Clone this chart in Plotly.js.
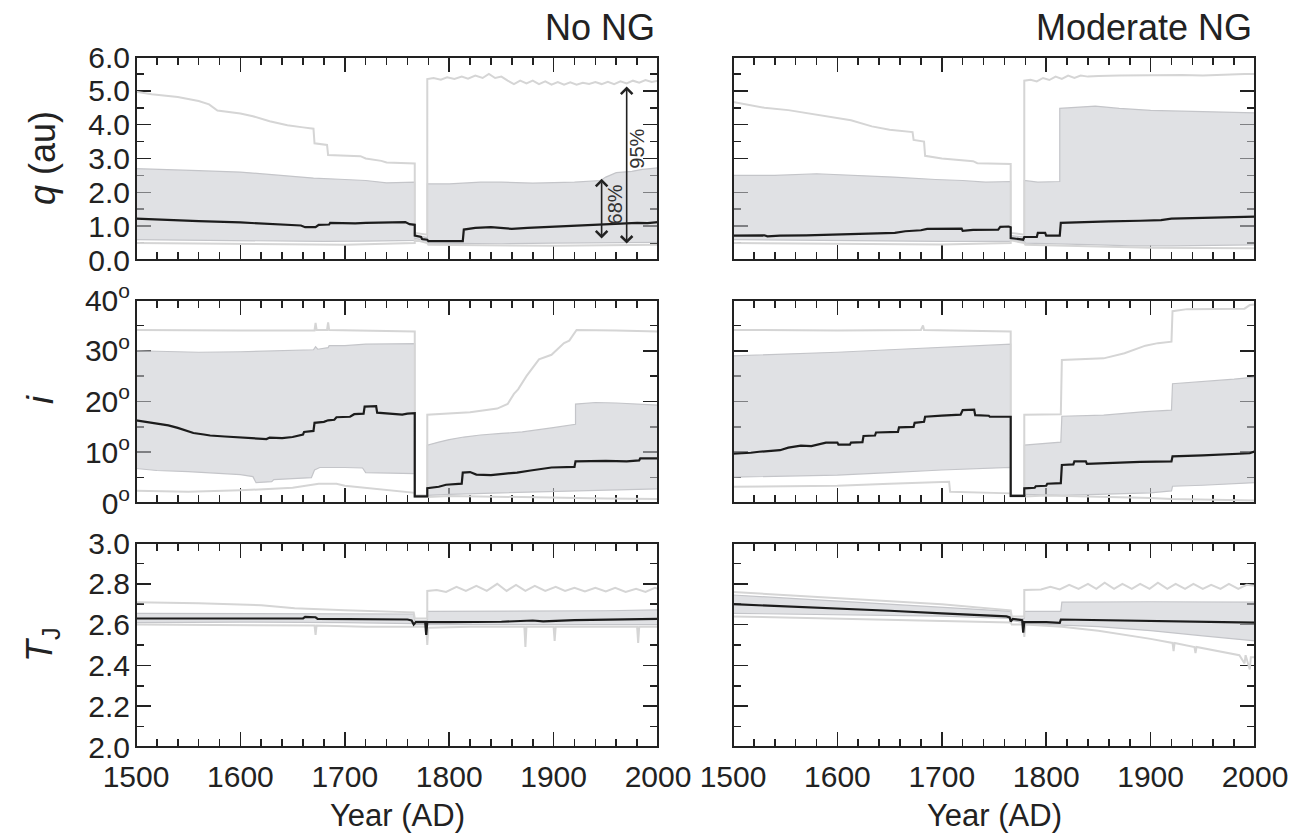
<!DOCTYPE html>
<html>
<head>
<meta charset="utf-8">
<script src="https://cdn.plot.ly/plotly-3.0.1.min.js"></script>
<style>html,body{margin:0;padding:0;background:#fff;}#chart{width:1301px;height:840px;}</style>
</head>
<body>
<div id="chart"></div>
<script>
// ---------- tick labels ----------
const yearTicks = [1500, 1600, 1700, 1800, 1900, 2000];
const yearLabels = ['1500', '1600', '1700', '1800', '1900', '2000'];
const qTicks = [0, 1, 2, 3, 4, 5, 6];
const qLabels = ['0.0', '1.0', '2.0', '3.0', '4.0', '5.0', '6.0'];
const iTicks = [0, 10, 20, 30, 40];
const iLabels = ['0<sup>o</sup>', '10<sup>o</sup>', '20<sup>o</sup>', '30<sup>o</sup>', '40<sup>o</sup>'];
const tjTicks = [2.0, 2.2, 2.4, 2.6, 2.8, 3.0];
const tjLabels = ['2.0', '2.2', '2.4', '2.6', '2.8', '3.0'];
const panelTitles = ['No NG', 'Moderate NG'];

// ---------- q (au), No NG : [year, value] ----------
const qNoMed = [[1500,1.22],[1530,1.18],[1560,1.15],[1600,1.11],[1640,1.06],[1658,1.02],[1662,0.97],[1672,0.97],[1675,1.04],[1685,1.05],[1686,1.1],[1710,1.08],[1720,1.1],[1745,1.1],[1758,1.12],[1762,1.06],[1767,1.04],[1767,0.72],[1773,0.68],[1774,0.62],[1779,0.6],[1780,0.56],[1813,0.56],[1814,0.9],[1825,0.95],[1840,0.97],[1850,0.94],[1860,0.92],[1875,0.95],[1890,0.97],[1910,0.99],[1930,1.02],[1950,1.05],[1965,1.08],[1980,1.1],[1990,1.09],[2000,1.12]];
const qNoHi68 = [[1500,2.7],[1530,2.68],[1560,2.64],[1600,2.6],[1620,2.55],[1640,2.48],[1670,2.42],[1700,2.38],[1720,2.35],[1740,2.28],[1755,2.3],[1767,2.3],[1767,0.74],[1779,0.66],[1779,2.25],[1800,2.25],[1830,2.3],[1850,2.3],[1880,2.27],[1920,2.3],[1945,2.35],[1950,2.45],[1960,2.58],[1975,2.62],[1985,2.68],[2000,2.72]];
const qNoLo68 = [[1500,0.6],[1560,0.58],[1620,0.55],[1680,0.55],[1720,0.56],[1767,0.58],[1767,0.64],[1779,0.55],[1780,0.5],[1850,0.48],[1900,0.5],[1950,0.5],[2000,0.52]];
const qNoHi95 = [[1500,4.97],[1515,4.9],[1540,4.82],[1560,4.7],[1570,4.6],[1578,4.42],[1600,4.33],[1612,4.25],[1628,4.1],[1645,3.98],[1660,3.92],[1670,3.88],[1671,3.45],[1683,3.4],[1684,3.1],[1715,3.07],[1720,3.0],[1735,2.93],[1740,2.88],[1767,2.85],[1767,0.8],[1779,0.75],[1779,5.35],[1785,5.38],[1792,5.33],[1798,5.4],[1805,5.35],[1812,5.42],[1818,5.36],[1825,5.45],[1832,5.38],[1838,5.5],[1844,5.38],[1850,5.42],[1856,5.3],[1862,5.2],[1868,5.3],[1874,5.22],[1880,5.3],[1886,5.2],[1892,5.28],[1898,5.18],[1904,5.26],[1910,5.18],[1916,5.25],[1922,5.18],[1928,5.24],[1934,5.2],[1940,5.26],[1946,5.2],[1952,5.27],[1958,5.2],[1964,5.28],[1970,5.22],[1976,5.3],[1982,5.24],[1988,5.32],[1994,5.26],[2000,5.3]];
const qNoLo95 = [[1500,0.5],[1600,0.48],[1700,0.45],[1767,0.5],[1767,0.6],[1779,0.5],[1780,0.45],[1900,0.42],[2000,0.45]];

// ---------- q (au), Moderate NG ----------
const qModMed = [[1500,0.72],[1530,0.73],[1533,0.7],[1545,0.72],[1570,0.73],[1600,0.75],[1615,0.77],[1640,0.79],[1655,0.8],[1665,0.85],[1680,0.88],[1686,0.92],[1700,0.93],[1719,0.93],[1720,0.86],[1730,0.89],[1754,0.9],[1756,0.98],[1764,0.99],[1766,0.97],[1766,0.65],[1775,0.62],[1778,0.6],[1779,0.68],[1791,0.68],[1792,0.8],[1799,0.8],[1800,0.72],[1813,0.72],[1814,1.1],[1830,1.12],[1860,1.14],[1890,1.16],[1910,1.18],[1920,1.22],[1950,1.24],[1980,1.26],[2000,1.28]];
const qModHi68 = [[1500,2.5],[1540,2.5],[1580,2.55],[1620,2.5],[1654,2.45],[1694,2.38],[1720,2.35],[1742,2.3],[1766,2.32],[1766,0.72],[1779,0.68],[1779,2.35],[1792,2.3],[1813,2.32],[1813,4.48],[1847,4.55],[1870,4.48],[1900,4.42],[1950,4.38],[2000,4.35]];
const qModLo68 = [[1500,0.6],[1600,0.57],[1700,0.55],[1766,0.55],[1766,0.6],[1779,0.55],[1780,0.5],[1850,0.45],[1880,0.42],[1920,0.42],[2000,0.45]];
const qModHi95 = [[1500,4.67],[1512,4.6],[1530,4.5],[1553,4.43],[1581,4.28],[1600,4.2],[1613,4.13],[1633,3.95],[1650,3.85],[1672,3.78],[1673,3.55],[1683,3.5],[1684,3.08],[1700,3.0],[1715,2.95],[1730,2.92],[1734,2.86],[1766,2.84],[1766,0.8],[1779,0.75],[1779,5.3],[1785,5.33],[1791,5.28],[1797,5.38],[1803,5.32],[1809,5.42],[1815,5.35],[1821,5.45],[1827,5.38],[1833,5.45],[1840,5.42],[1850,5.44],[1870,5.45],[1900,5.46],[1930,5.47],[1950,5.45],[1970,5.48],[1990,5.5],[2000,5.5]];
const qModLo95 = [[1500,0.5],[1600,0.48],[1700,0.46],[1766,0.5],[1766,0.58],[1779,0.5],[1780,0.45],[1850,0.4],[1900,0.36],[2000,0.35]];

// ---------- i (deg), No NG ----------
const iNoMed = [[1500,16.3],[1510,16.0],[1515,15.8],[1525,15.5],[1531,15.3],[1540,14.8],[1543,14.6],[1550,14.2],[1555,13.8],[1565,13.5],[1571,13.3],[1585,13.1],[1592,13.0],[1610,12.8],[1625,12.6],[1628,12.9],[1640,12.8],[1650,13.0],[1655,13.3],[1660,13.5],[1661,14.0],[1670,14.2],[1671,15.8],[1680,16.0],[1684,16.3],[1690,16.4],[1692,16.9],[1705,17.0],[1709,17.5],[1718,17.6],[1719,19.0],[1730,19.1],[1731,17.8],[1745,17.6],[1755,17.4],[1760,17.6],[1767,17.7],[1767,1.3],[1779,1.3],[1779,2.9],[1790,3.2],[1797,3.6],[1812,3.8],[1813,6.0],[1820,6.1],[1826,5.6],[1840,5.5],[1854,5.8],[1865,6.0],[1878,6.4],[1890,6.7],[1898,7.0],[1920,7.1],[1921,8.2],[1950,8.3],[1970,8.2],[1982,8.4],[1983,8.8],[2000,8.8]];
const iNoHi68 = [[1500,30.0],[1530,29.8],[1560,29.7],[1600,29.8],[1640,30.0],[1670,30.2],[1672,30.8],[1674,30.3],[1684,30.6],[1685,31.0],[1700,31.0],[1720,31.3],[1767,31.4],[1767,1.5],[1779,1.5],[1779,11.4],[1790,12.0],[1800,12.5],[1814,13.0],[1830,13.4],[1850,13.7],[1870,14.0],[1898,14.8],[1921,15.5],[1921,19.5],[1940,19.8],[1960,19.7],[1980,19.5],[2000,19.3]];
const iNoLo68 = [[1500,6.8],[1520,6.4],[1550,6.2],[1575,5.9],[1600,5.6],[1612,5.2],[1615,4.0],[1630,4.2],[1632,4.6],[1650,4.8],[1668,5.0],[1671,6.5],[1676,7.0],[1700,7.0],[1717,6.9],[1720,6.0],[1767,5.8],[1767,1.2],[1779,1.2],[1779,1.5],[1800,1.7],[1850,2.0],[1900,2.3],[1950,2.6],[2000,2.8]];
const iNoHi95 = [[1500,34.1],[1550,34.0],[1600,34.0],[1650,34.0],[1671,34.0],[1672,35.5],[1673,34.1],[1683,34.1],[1684,35.6],[1685,34.1],[1720,34.0],[1767,33.8],[1767,1.5],[1779,1.5],[1779,17.4],[1800,17.6],[1820,17.9],[1846,18.6],[1856,19.5],[1862,21.5],[1866,22.4],[1874,25.0],[1886,28.3],[1898,29.2],[1902,30.0],[1910,31.5],[1915,32.0],[1922,34.1],[1960,34.0],[2000,33.8]];
const iNoLo95 = [[1500,2.4],[1550,2.2],[1600,2.5],[1650,3.0],[1675,3.8],[1692,3.8],[1700,3.4],[1720,3.0],[1740,2.5],[1767,2.0],[1767,1.2],[1779,1.2],[1800,1.4],[1850,1.2],[1900,1.0],[1950,0.9],[2000,0.8]];

// ---------- i (deg), Moderate NG ----------
const iModMed = [[1500,9.7],[1510,9.8],[1517,9.9],[1525,10.1],[1533,10.2],[1545,10.4],[1553,10.9],[1565,11.3],[1575,11.2],[1589,11.9],[1600,11.9],[1601,11.5],[1612,11.5],[1613,11.9],[1624,12.0],[1625,13.2],[1636,13.3],[1637,13.9],[1658,14.0],[1659,14.9],[1673,15.0],[1674,15.8],[1683,16.0],[1684,17.0],[1700,17.2],[1718,17.4],[1720,18.3],[1731,18.4],[1732,17.3],[1745,17.2],[1746,17.0],[1766,17.0],[1766,1.4],[1779,1.4],[1779,2.9],[1789,3.0],[1790,3.3],[1800,3.4],[1801,3.8],[1814,3.9],[1815,7.5],[1826,7.6],[1827,8.2],[1838,8.2],[1839,7.7],[1860,7.9],[1890,8.1],[1920,8.2],[1921,9.2],[1950,9.4],[1980,9.6],[1995,9.8],[2000,10.2]];
const iModHi68 = [[1500,29.0],[1550,29.3],[1600,29.7],[1650,30.2],[1700,30.7],[1766,31.3],[1766,1.6],[1779,1.6],[1779,11.4],[1800,11.7],[1814,12.0],[1815,17.1],[1855,17.3],[1895,18.0],[1920,18.3],[1921,23.5],[1950,23.9],[1980,24.4],[2000,24.8]];
const iModLo68 = [[1500,5.1],[1550,5.3],[1600,5.5],[1650,6.0],[1700,6.5],[1766,7.0],[1766,1.3],[1779,1.3],[1779,1.7],[1815,1.5],[1860,1.7],[1900,2.0],[1920,2.4],[1921,3.3],[1950,3.5],[2000,4.0]];
const iModHi95 = [[1500,34.1],[1550,34.0],[1600,34.0],[1680,34.1],[1682,35.0],[1683,34.1],[1720,34.0],[1766,33.8],[1766,1.6],[1779,1.6],[1779,17.4],[1814,17.5],[1815,28.2],[1855,28.5],[1875,29.5],[1895,31.0],[1907,31.5],[1920,31.8],[1921,37.8],[1935,38.2],[1990,38.3],[1995,39.0],[2000,39.1]];
const iModLo95 = [[1500,3.2],[1600,3.4],[1650,3.8],[1707,4.2],[1708,2.2],[1766,1.9],[1766,1.3],[1779,1.3],[1800,1.5],[1850,1.3],[1900,1.0],[1920,0.8],[2000,0.5]];

// ---------- T_J, No NG ----------
const tjNoMed = [[1500,2.63],[1600,2.632],[1660,2.63],[1662,2.638],[1672,2.636],[1674,2.628],[1720,2.625],[1760,2.625],[1764,2.62],[1766,2.6],[1768,2.612],[1777,2.612],[1778,2.55],[1779,2.612],[1800,2.612],[1850,2.614],[1880,2.62],[1890,2.616],[1920,2.622],[1950,2.625],[1975,2.628],[2000,2.628]];
const tjNoHi68 = [[1500,2.655],[1600,2.655],[1700,2.652],[1766,2.652],[1767,2.62],[1779,2.62],[1779,2.665],[1850,2.665],[1950,2.668],[2000,2.672]];
const tjNoLo68 = [[1500,2.61],[1600,2.612],[1700,2.61],[1766,2.605],[1767,2.6],[1779,2.6],[1780,2.6],[1850,2.602],[1950,2.602],[2000,2.6]];
const tjNoHi95 = [[1500,2.71],[1560,2.705],[1620,2.695],[1652,2.68],[1700,2.67],[1766,2.66],[1767,2.63],[1779,2.63],[1779,2.765],[1788,2.77],[1797,2.76],[1807,2.785],[1816,2.765],[1826,2.79],[1836,2.765],[1846,2.8],[1855,2.765],[1864,2.795],[1873,2.765],[1882,2.79],[1892,2.765],[1902,2.785],[1911,2.765],[1920,2.78],[1930,2.762],[1940,2.78],[1950,2.762],[1959,2.78],[1969,2.76],[1979,2.775],[1988,2.76],[1997,2.78],[2000,2.775]];
const tjNoLo95 = [[1500,2.6],[1560,2.598],[1600,2.598],[1660,2.596],[1671,2.596],[1672,2.55],[1673,2.596],[1720,2.59],[1766,2.59],[1778,2.59],[1779,2.5],[1780,2.585],[1820,2.59],[1872,2.59],[1873,2.49],[1874,2.59],[1900,2.59],[1901,2.52],[1902,2.59],[1940,2.59],[1980,2.59],[1981,2.51],[1982,2.59],[2000,2.59]];

// ---------- T_J, Moderate NG ----------
const tjModMed = [[1500,2.70],[1550,2.69],[1600,2.68],[1650,2.668],[1700,2.655],[1740,2.645],[1762,2.64],[1765,2.635],[1766,2.615],[1768,2.628],[1777,2.622],[1778,2.56],[1779,2.612],[1800,2.612],[1813,2.608],[1814,2.625],[1850,2.622],[1900,2.62],[1950,2.615],[2000,2.61]];
const tjModHi68 = [[1500,2.745],[1550,2.73],[1600,2.715],[1650,2.7],[1700,2.685],[1766,2.665],[1767,2.63],[1779,2.63],[1779,2.665],[1814,2.665],[1815,2.71],[1900,2.712],[2000,2.71]];
const tjModLo68 = [[1500,2.655],[1600,2.65],[1700,2.642],[1766,2.63],[1767,2.62],[1779,2.61],[1780,2.605],[1850,2.59],[1900,2.57],[1950,2.545],[2000,2.52]];
const tjModHi95 = [[1500,2.76],[1600,2.73],[1700,2.7],[1766,2.67],[1767,2.64],[1779,2.64],[1779,2.77],[1795,2.772],[1804,2.785],[1813,2.772],[1822,2.795],[1831,2.775],[1840,2.8],[1848,2.775],[1856,2.805],[1865,2.775],[1873,2.8],[1882,2.775],[1890,2.8],[1899,2.775],[1907,2.805],[1916,2.775],[1924,2.8],[1933,2.775],[1941,2.8],[1950,2.775],[1958,2.795],[1967,2.775],[1975,2.8],[1984,2.775],[1992,2.795],[2000,2.79]];
const tjModLo95 = [[1500,2.64],[1550,2.635],[1600,2.63],[1650,2.625],[1700,2.62],[1766,2.61],[1767,2.6],[1778,2.6],[1779,2.54],[1780,2.6],[1815,2.59],[1850,2.57],[1900,2.53],[1921,2.51],[1922,2.47],[1923,2.51],[1942,2.49],[1943,2.46],[1944,2.49],[1985,2.45],[1990,2.41],[1991,2.45],[1995,2.38],[1996,2.44],[2000,2.44]];

// ---------- build ----------
const X = a => a.map(p => p[0]);
const Y = a => a.map(p => p[1]);
const BAND_FILL = 'rgba(200,202,206,0.56)';
const BAND_EDGE = 'rgba(196,197,201,1)';
const LINE95 = '#d5d5d5';
const MED = '#1c1c1c';

function panel(n, lo68, hi68, lo95, hi95, med) {
  const xa = n === 1 ? 'x' : 'x' + n, ya = n === 1 ? 'y' : 'y' + n;
  const base = {type: 'scatter', mode: 'lines', xaxis: xa, yaxis: ya, hoverinfo: 'skip', showlegend: false};
  return [
    Object.assign({}, base, {x: X(lo68), y: Y(lo68), line: {color: BAND_EDGE, width: 1.2}}),
    Object.assign({}, base, {x: X(hi68), y: Y(hi68), line: {color: BAND_EDGE, width: 1.2}, fill: 'tonexty', fillcolor: BAND_FILL}),
    Object.assign({}, base, {x: X(lo95), y: Y(lo95), line: {color: LINE95, width: 2}}),
    Object.assign({}, base, {x: X(hi95), y: Y(hi95), line: {color: LINE95, width: 2}}),
    Object.assign({}, base, {x: X(med), y: Y(med), line: {color: MED, width: 2.2}})
  ];
}

const data = [].concat(
  panel(1, qNoLo68, qNoHi68, qNoLo95, qNoHi95, qNoMed),
  panel(2, qModLo68, qModHi68, qModLo95, qModHi95, qModMed),
  panel(3, iNoLo68, iNoHi68, iNoLo95, iNoHi95, iNoMed),
  panel(4, iModLo68, iModHi68, iModLo95, iModHi95, iModMed),
  panel(5, tjNoLo68, tjNoHi68, tjNoLo95, tjNoHi95, tjNoMed),
  panel(6, tjModLo68, tjModHi68, tjModLo95, tjModHi95, tjModMed)
);

const FONT = 'Liberation Sans, Arial, Helvetica, sans-serif';
const INK = '#222';
const xL = [136/1301, 658/1301], xR = [733/1301, 1255/1301];
const yTop = [(840-260)/840, (840-57)/840], yMid = [(840-503)/840, (840-300)/840], yBot = [(840-747)/840, (840-543)/840];

function xAxis(domain, anchor, labels) {
  return {domain: domain, anchor: anchor, range: [1500, 2000], tickmode: 'array', tickvals: yearTicks, ticktext: yearLabels,
    showticklabels: labels, ticks: 'inside', ticklen: 15, tickwidth: 1.6, tickcolor: INK, mirror: 'allticks',
    ticklabelstandoff: 9,
    showline: false, showgrid: false, zeroline: false, layer: 'below traces',
    minor: {ticks: 'inside', tickmode: 'linear', tick0: 1500, dtick: 20, ticklen: 8, tickwidth: 1.6, tickcolor: INK, showgrid: false},
    tickfont: {family: FONT, size: 30, color: INK}, fixedrange: true};
}
function yAxis(domain, anchor, range, tv, tt, minorD, labels) {
  return {domain: domain, anchor: anchor, range: range, tickmode: 'array', tickvals: tv, ticktext: tt,
    showticklabels: labels, ticks: 'inside', ticklen: 15, tickwidth: 1.6, tickcolor: INK, mirror: 'allticks',
    ticklabelstandoff: 5,
    showline: false, showgrid: false, zeroline: false, layer: 'below traces',
    minor: {ticks: 'inside', tickmode: 'linear', tick0: range[0], dtick: minorD, ticklen: 8, tickwidth: 1.6, tickcolor: INK, showgrid: false},
    tickfont: {family: FONT, size: 30, color: INK}, fixedrange: true};
}

const shapes = [];
for (let n = 1; n <= 6; n++) {
  const xa = n === 1 ? 'x' : 'x' + n, ya = n === 1 ? 'y' : 'y' + n;
  shapes.push({type: 'rect', xref: xa + ' domain', yref: ya + ' domain', x0: 0, x1: 1, y0: 0, y1: 1,
    line: {color: INK, width: 2}, layer: 'above'});
}

const ann = (o) => Object.assign({showarrow: false, font: {family: FONT, size: 36, color: INK}}, o);
const annotations = [
  ann({text: panelTitles[0], xref: 'paper', yref: 'paper', x: 657/1301, y: (840-28)/840, xanchor: 'right', yanchor: 'middle'}),
  ann({text: panelTitles[1], xref: 'paper', yref: 'paper', x: 1254/1301, y: (840-28)/840, xanchor: 'right', yanchor: 'middle'}),
  ann({text: '<i>q</i> (au)', xref: 'paper', yref: 'paper', x: 42/1301, y: (840-158)/840, xanchor: 'center', yanchor: 'middle', textangle: -90}),
  ann({text: '<i>i</i>', xref: 'paper', yref: 'paper', x: 40/1301, y: (840-400)/840, xanchor: 'center', yanchor: 'middle', textangle: -90}),
  ann({text: '<i>T</i><sub>J</sub>', xref: 'paper', yref: 'paper', x: 42/1301, y: (840-645)/840, xanchor: 'center', yanchor: 'middle', textangle: -90}),
  ann({text: 'Year (AD)', xref: 'paper', yref: 'paper', x: 397/1301, y: (840-815)/840, xanchor: 'center', yanchor: 'middle', font: {family: FONT, size: 31, color: INK}}),
  ann({text: 'Year (AD)', xref: 'paper', yref: 'paper', x: 994/1301, y: (840-815)/840, xanchor: 'center', yanchor: 'middle', font: {family: FONT, size: 31, color: INK}}),
  // confidence arrows
  {xref: 'x', yref: 'y', axref: 'x', ayref: 'y', x: 1946, y: 2.4, ax: 1946, ay: 0.59, text: '', showarrow: true,
    arrowside: 'end+start', arrowhead: 4, startarrowhead: 4, arrowsize: 1.4, startarrowsize: 1.4, arrowwidth: 1.6, arrowcolor: INK},
  {xref: 'x', yref: 'y', axref: 'x', ayref: 'y', x: 1970, y: 5.13, ax: 1970, ay: 0.44, text: '', showarrow: true,
    arrowside: 'end+start', arrowhead: 4, startarrowhead: 4, arrowsize: 1.4, startarrowsize: 1.4, arrowwidth: 1.6, arrowcolor: INK},
  ann({text: '68%', xref: 'x', yref: 'y', x: 1959, y: 1.65, xanchor: 'center', yanchor: 'middle', textangle: -90, font: {family: FONT, size: 20, color: '#333'}}),
  ann({text: '95%', xref: 'x', yref: 'y', x: 1979.5, y: 3.28, xanchor: 'center', yanchor: 'middle', textangle: -90, font: {family: FONT, size: 20, color: '#333'}})
];

const layout = {
  width: 1301, height: 840, margin: {l: 0, r: 0, t: 0, b: 0}, paper_bgcolor: '#fff', plot_bgcolor: 'rgba(0,0,0,0)',
  showlegend: false, font: {family: FONT, color: INK},
  xaxis: xAxis(xL, 'y', false), yaxis: yAxis(yTop, 'x', [0, 6], qTicks, qLabels, 0.5, true),
  xaxis2: xAxis(xR, 'y2', false), yaxis2: yAxis(yTop, 'x2', [0, 6], qTicks, qLabels, 0.5, false),
  xaxis3: xAxis(xL, 'y3', false), yaxis3: yAxis(yMid, 'x3', [0, 40], iTicks, iLabels, 5, true),
  xaxis4: xAxis(xR, 'y4', false), yaxis4: yAxis(yMid, 'x4', [0, 40], iTicks, iLabels, 5, false),
  xaxis5: xAxis(xL, 'y5', true), yaxis5: yAxis(yBot, 'x5', [2, 3], tjTicks, tjLabels, 0.1, true),
  xaxis6: xAxis(xR, 'y6', true), yaxis6: yAxis(yBot, 'x6', [2, 3], tjTicks, tjLabels, 0.1, false),
  shapes: shapes, annotations: annotations
};

Plotly.newPlot('chart', data, layout, {staticPlot: true, displayModeBar: false});
</script>
</body>
</html>
